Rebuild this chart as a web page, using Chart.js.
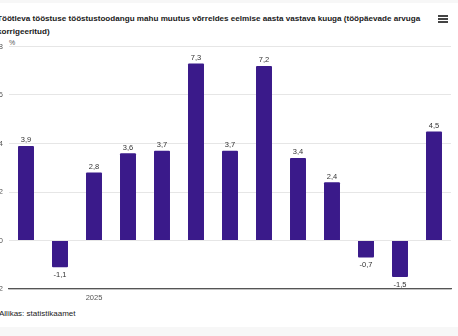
<!DOCTYPE html>
<html>
<head>
<meta charset="utf-8">
<script src="https://cdn.jsdelivr.net/npm/chart.js@4.4.1/dist/chart.umd.min.js"></script>
<style>
  html, body { margin: 0; padding: 0; }
  body { width: 458px; height: 336px; overflow: hidden; background: #f7f7f7; position: relative; font-family: "Liberation Sans", Arial, sans-serif; }
  #card { position: absolute; left: 0; top: 3px; width: 458px; height: 324px; background: #fff; }
  #title { position: absolute; left: -3px; top: 12px; width: 432px; font-size: 8.1px; font-weight: bold; color: #1a1a1a; line-height: 13px; }
  #menu { position: absolute; left: 438px; top: 15px; width: 10px; height: 2px; background: #444; box-shadow: 0 3px 0 #444, 0 6px 0 #444; }
  #unit { position: absolute; left: 9px; top: 39px; font-size: 7px; color: #555; }
  #source { position: absolute; left: -1px; top: 309px; font-size: 8px; color: #222; }
  #wrap { position: absolute; left: -5px; top: 36px; }
</style>
</head>
<body>
<div id="card"></div>
<div id="title">Töötleva tööstuse tööstustoodangu mahu muutus võrreldes eelmise aasta vastava kuuga (tööpäevade arvuga korrigeeritud)</div>
<div id="menu"></div>
<div id="unit">%</div>
<div id="wrap"><canvas id="c" width="463" height="270"></canvas></div>
<div id="source">Allikas: statistikaamet</div>
<script>
const categories = ['11.2024', '12.2024', '01.2025', '02.2025', '03.2025', '04.2025', '05.2025', '06.2025', '07.2025', '08.2025', '09.2025', '10.2025', '11.2025'];
const xTickLabels = ['', '', '2025', '', '', '', '', '', '', '', '', '', ''];
const values = [3.9, -1.1, 2.8, 3.6, 3.7, 7.3, 3.7, 7.2, 3.4, 2.4, -0.7, -1.5, 4.5];
const yTicks = [-2, 0, 2, 4, 6, 8];

const labelPlugin = {
  id: 'valueLabels',
  afterDatasetsDraw(chart) {
    const ctx = chart.ctx;
    const meta = chart.getDatasetMeta(0);
    ctx.save();
    ctx.font = '7.5px "Liberation Sans", Arial, sans-serif';
    ctx.fillStyle = '#333';
    ctx.textAlign = 'center';
    meta.data.forEach((bar, i) => {
      const v = values[i];
      const txt = String(v).replace('.', ',');
      if (v >= 0) {
        ctx.textBaseline = 'bottom';
        ctx.fillText(txt, bar.x, bar.y - 2);
      } else {
        ctx.textBaseline = 'top';
        ctx.fillText(txt, bar.x, bar.y + 4);
      }
    });
    ctx.restore();
  }
};

new Chart(document.getElementById('c'), {
  type: 'bar',
  data: {
    labels: categories,
    datasets: [{
      data: values,
      backgroundColor: '#3a1a8a',
      borderWidth: 0,
      borderRadius: 1,
      categoryPercentage: 1,
      barPercentage: 0.47
    }]
  },
  options: {
    responsive: false,
    animation: false,
    events: [],
    layout: { padding: { top: 0, right: 7, bottom: 0, left: 0 } },
    plugins: { legend: { display: false }, tooltip: { enabled: false }, title: { display: false } },
    scales: {
      x: {
        grid: { display: false, drawTicks: false },
        border: { display: true, color: '#555', width: 1.2 },
        ticks: {
          autoSkip: false, maxRotation: 0, padding: 4,
          color: '#555', font: { size: 7.5, family: '"Liberation Sans", Arial, sans-serif' },
          callback: (v, i) => xTickLabels[i]
        }
      },
      y: {
        min: -2, max: 8,
        afterBuildTicks: (s) => { s.ticks = yTicks.map(v => ({ value: v })); },
        afterFit: (s) => { s.width = 14; },
        grid: { color: '#e6e6e6', drawTicks: false },
        border: { display: false },
        ticks: {
          padding: 6, color: '#555',
          font: { size: 7.5, family: '"Liberation Sans", Arial, sans-serif' }
        }
      }
    }
  },
  plugins: [labelPlugin]
});
</script>
</body>
</html>
